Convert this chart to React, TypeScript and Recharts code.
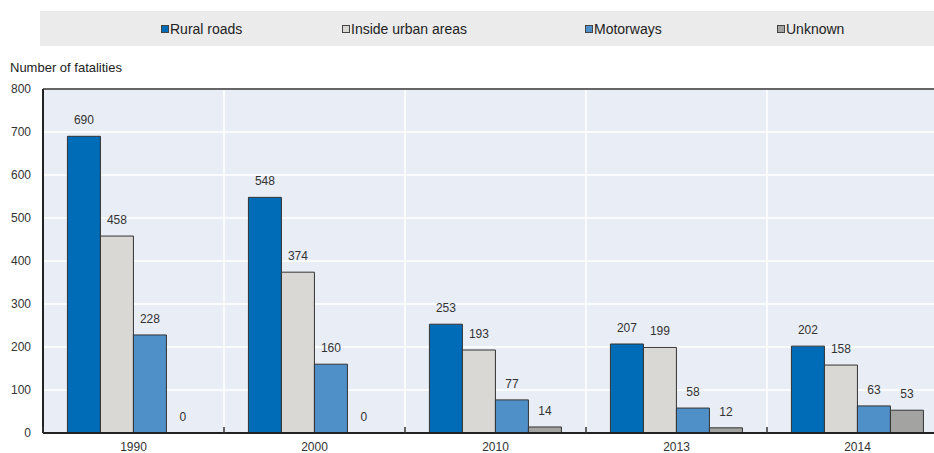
import { BarChart, Bar, XAxis, YAxis, CartesianGrid, LabelList, ReferenceLine } from "recharts";

const years = ["1990", "2000", "2010", "2013", "2014"];
const ruralRoads = [690, 548, 253, 207, 202];
const insideUrban = [458, 374, 193, 199, 158];
const motorways = [228, 160, 77, 58, 63];
const unknown = [0, 0, 14, 12, 53];
const yTicks = [0, 100, 200, 300, 400, 500, 600, 700, 800];

const series = [
  { key: "rural", name: "Rural roads", color: "#006bb6", values: ruralRoads },
  { key: "urban", name: "Inside urban areas", color: "#d9d8d5", values: insideUrban },
  { key: "motorways", name: "Motorways", color: "#4f90c9", values: motorways },
  { key: "unknown", name: "Unknown", color: "#a3a3a1", values: unknown },
];

const data = years.map((year, i) => {
  const row: Record<string, string | number> = { year };
  series.forEach((s) => {
    row[s.key] = s.values[i];
  });
  return row;
});

const FONT = "'Liberation Sans', Arial, sans-serif";

function LegendBox() {
  const widths = [181, 243, 192, 100];
  return (
    <div
      style={{
        position: "absolute",
        left: 40,
        top: 11,
        width: 894,
        height: 35,
        display: "flex",
        alignItems: "center",
        paddingLeft: 121,
        boxSizing: "border-box",
        background: "#ebebeb",
        fontFamily: FONT,
        fontSize: 14,
        color: "#222",
      }}
    >
      {series.map((s, i) => (
        <div key={s.key} style={{ width: widths[i], display: "flex", alignItems: "center", flexShrink: 0 }}>
          <span
            style={{
              display: "inline-block",
              width: 6,
              height: 6,
              background: s.color,
              border: "1px solid #444",
              marginRight: 1,
            }}
          />
          {s.name}
        </div>
      ))}
    </div>
  );
}

function YearTick(props: any) {
  const { x, y, payload } = props;
  const half = payload.offset ?? 0;
  return (
    <g>
      <line x1={x - half} x2={x - half} y1={y - 14} y2={y - 8} stroke="#333" strokeWidth={1.5} />
      <text x={x} y={y + 10} textAnchor="middle" fontSize={12} fill="#333" fontFamily={FONT}>
        {payload.value}
      </text>
    </g>
  );
}

export default function App() {
  return (
    <div style={{ position: "absolute", left: 0, top: 0, width: 934, height: 453, overflow: "hidden", background: "#fff" }}>
      <LegendBox />
      <div
        style={{
          position: "absolute",
          left: 10,
          top: 60,
          fontFamily: FONT,
          fontSize: 13,
          color: "#222",
        }}
      >
        Number of fatalities
      </div>
      <BarChart
        width={948}
        height={453}
        data={data}
        margin={{ top: 89, right: 0, bottom: 0, left: 0 }}
        barCategoryGap="13.5%"
        barGap={0}
        style={{ fontFamily: FONT }}
      >
        <CartesianGrid
          fill="#e9edf5"
          stroke="#ffffff"
          strokeWidth={1.5}
          verticalCoordinatesGenerator={({ offset }: any) =>
            years.slice(1).map((_, i) => offset.left + (offset.width * (i + 1)) / years.length)
          }
        />
        <ReferenceLine y={800} stroke="#666" strokeWidth={2} />
        {series.map((s) => (
          <Bar
            key={s.key}
            dataKey={s.key}
            name={s.name}
            fill={s.color}
            stroke="#333"
            strokeWidth={1}
            minPointSize={(v: number) => (v === 0 ? 0.01 : 0)}
            isAnimationActive={false}
          >
            <LabelList dataKey={s.key} position="top" offset={12} fontSize={12} fill="#333" fontFamily={FONT} />
          </Bar>
        ))}
        <XAxis
          dataKey="year"
          height={20}
          tickLine={false}
          axisLine={{ stroke: "#222", strokeWidth: 2 }}
          tick={<YearTick />}
          interval={0}
        />
        <YAxis
          width={43}
          domain={[0, 800]}
          ticks={yTicks}
          tickSize={0}
          tickMargin={12}
          axisLine={{ stroke: "#222", strokeWidth: 2 }}
          tick={{ fontSize: 12, fill: "#333", fontFamily: FONT }}
        />
      </BarChart>
    </div>
  );
}
